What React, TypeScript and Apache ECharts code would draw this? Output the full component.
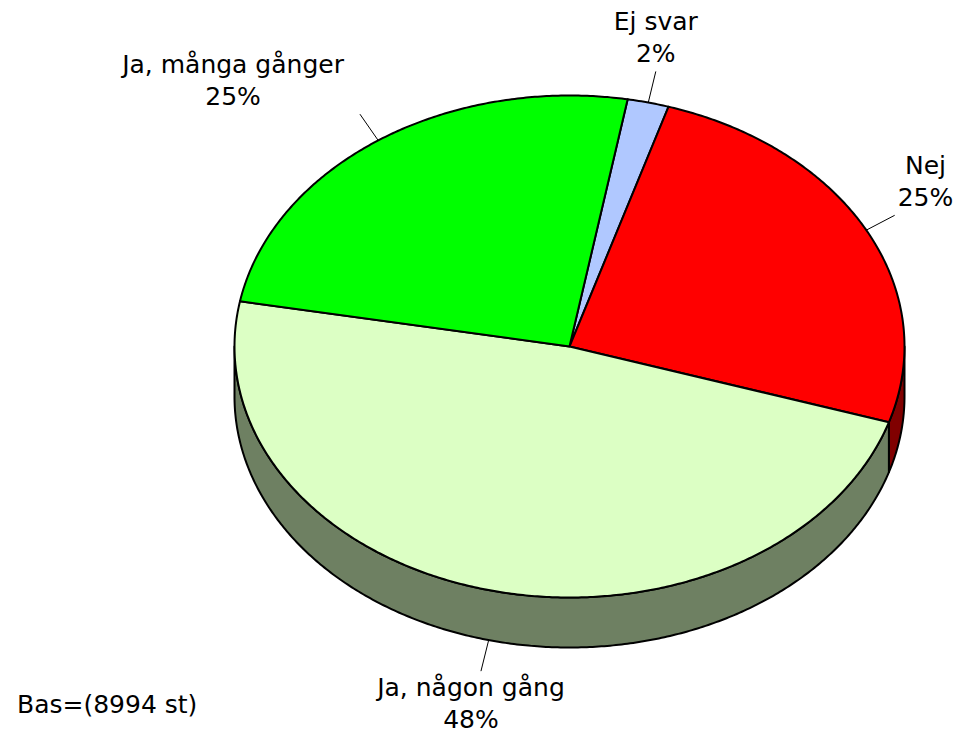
import React, { useEffect, useRef } from "react";
import * as echarts from "echarts";

// ---- data ----
const categories = ["Ej svar", "Nej", "Ja, någon gång", "Ja, många gånger"];
const values = [2.0, 25.1, 48.0, 24.9];
const baseNote = "Bas=(8994 st)";

// ---- styles ----
const topColors = ["#B0C8FF", "#FF0000", "#DCFFC4", "#00FF00"];
const sideColors = ["#586490", "#800000", "#6E8062", "#008000"];
const FONT_FAMILY = '"DejaVu Sans", Verdana, sans-serif';
const FONT_SIZE = 25;
const LINE_H = 32;

// ---- geometry ----
const GEO = {
  cx: 569.5,
  cy: 346.5,
  rx: 335,
  ry: 251,
  depth: 50,
  startDeg: 10,
  leader: 32,
  gapRight: 3,
  gapLeft: 16,
};

const measure = (() => {
  let ctx: CanvasRenderingContext2D | null = null;
  return (t: string) => {
    if (!ctx) {
      ctx = document.createElement("canvas").getContext("2d");
    }
    if (!ctx) return t.length * FONT_SIZE * 0.6;
    ctx.font = `${FONT_SIZE}px ${FONT_FAMILY}`;
    return ctx.measureText(t).width;
  };
})();

function pt(deg: number, z: number): number[] {
  const a = (deg * Math.PI) / 180;
  return [GEO.cx + GEO.rx * Math.sin(a), GEO.cy - GEO.ry * Math.cos(a) + z];
}

function arcPts(a1: number, a2: number, z: number): number[][] {
  const pts: number[][] = [];
  const n = Math.max(2, Math.ceil(Math.abs(a2 - a1) / 0.5));
  for (let k = 0; k <= n; k++) pts.push(pt(a1 + ((a2 - a1) * k) / n, z));
  return pts;
}

function renderItem(params: any, api: any) {
  const i = params.dataIndex;
  const total = values.reduce((s, v) => s + v, 0);
  let before = 0;
  for (let j = 0; j < i; j++) before += values[j];
  const v = api.value(0);
  const s = GEO.startDeg + (before / total) * 360;
  const e = s + (v / total) * 360;
  const children: any[] = [];

  // visible front side wall (90..270 and 450..630)
  const ranges = [
    [90, 270],
    [450, 630],
  ];
  for (const [r1, r2] of ranges) {
    const a1 = Math.max(s, r1);
    const a2 = Math.min(e, r2);
    if (a2 > a1) {
      const pts = arcPts(a1, a2, 0).concat(arcPts(a2, a1, GEO.depth));
      children.push({
        type: "polygon",
        shape: { points: pts },
        style: { fill: sideColors[i], stroke: "#000", lineWidth: 2, lineJoin: "round" },
      });
    }
  }

  // top face
  const top = [[GEO.cx, GEO.cy]].concat(arcPts(s, e, 0));
  children.push({
    type: "polygon",
    shape: { points: top },
    style: { fill: topColors[i], stroke: "#000", lineWidth: 2, lineJoin: "round" },
  });

  // leader + label
  const m = (s + e) / 2;
  const mr = (m * Math.PI) / 180;
  const sn = Math.sin(mr);
  const cs = Math.cos(mr);
  const front = cs < 0;
  const st = pt(m, front ? GEO.depth : 0);
  const en = [st[0] + GEO.leader * sn, st[1] - GEO.leader * cs];
  children.push({
    type: "line",
    shape: { x1: st[0], y1: st[1], x2: en[0], y2: en[1] },
    style: { stroke: "#000", lineWidth: 1 },
  });
  const pct = Math.round((v / total) * 100) + "%";
  const lines = [categories[i], pct];
  const w = Math.max(...lines.map(measure));
  let bx = en[0];
  if (sn > 0.5) bx = en[0] + GEO.gapRight + w / 2;
  else if (sn < -0.5) bx = en[0] - GEO.gapLeft - w / 2;
  else if (sn < 0) bx = en[0] - 10;
  children.push({
    type: "text",
    style: {
      text: lines.join("\n"),
      x: bx,
      y: cs > 0 ? en[1] - 2 : en[1],
      align: "center",
      verticalAlign: cs > 0 ? "bottom" : "top",
      font: `${FONT_SIZE}px ${FONT_FAMILY}`,
      lineHeight: LINE_H,
      fill: "#000",
    },
  });

  return { type: "group", children };
}

export default function App() {
  const ref = useRef<HTMLDivElement>(null);
  useEffect(() => {
    if (!ref.current) return;
    const chart = echarts.init(ref.current, undefined, { renderer: "svg" });
    chart.setOption({
      animation: false,
      backgroundColor: "#fff",
      series: [
        {
          type: "custom",
          coordinateSystem: "none",
          silent: true,
          data: values.map((v, i) => ({ name: categories[i], value: [v] })),
          renderItem,
        },
      ],
      graphic: [
        {
          type: "text",
          left: 17,
          top: 692,
          style: {
            text: baseNote,
            font: `${FONT_SIZE}px ${FONT_FAMILY}`,
            fill: "#000",
          },
        },
      ],
    });
    return () => chart.dispose();
  }, []);
  return (
    <div
      ref={ref}
      style={{ position: "fixed", left: 0, top: 0, width: 957, height: 734, background: "#fff" }}
    />
  );
}
